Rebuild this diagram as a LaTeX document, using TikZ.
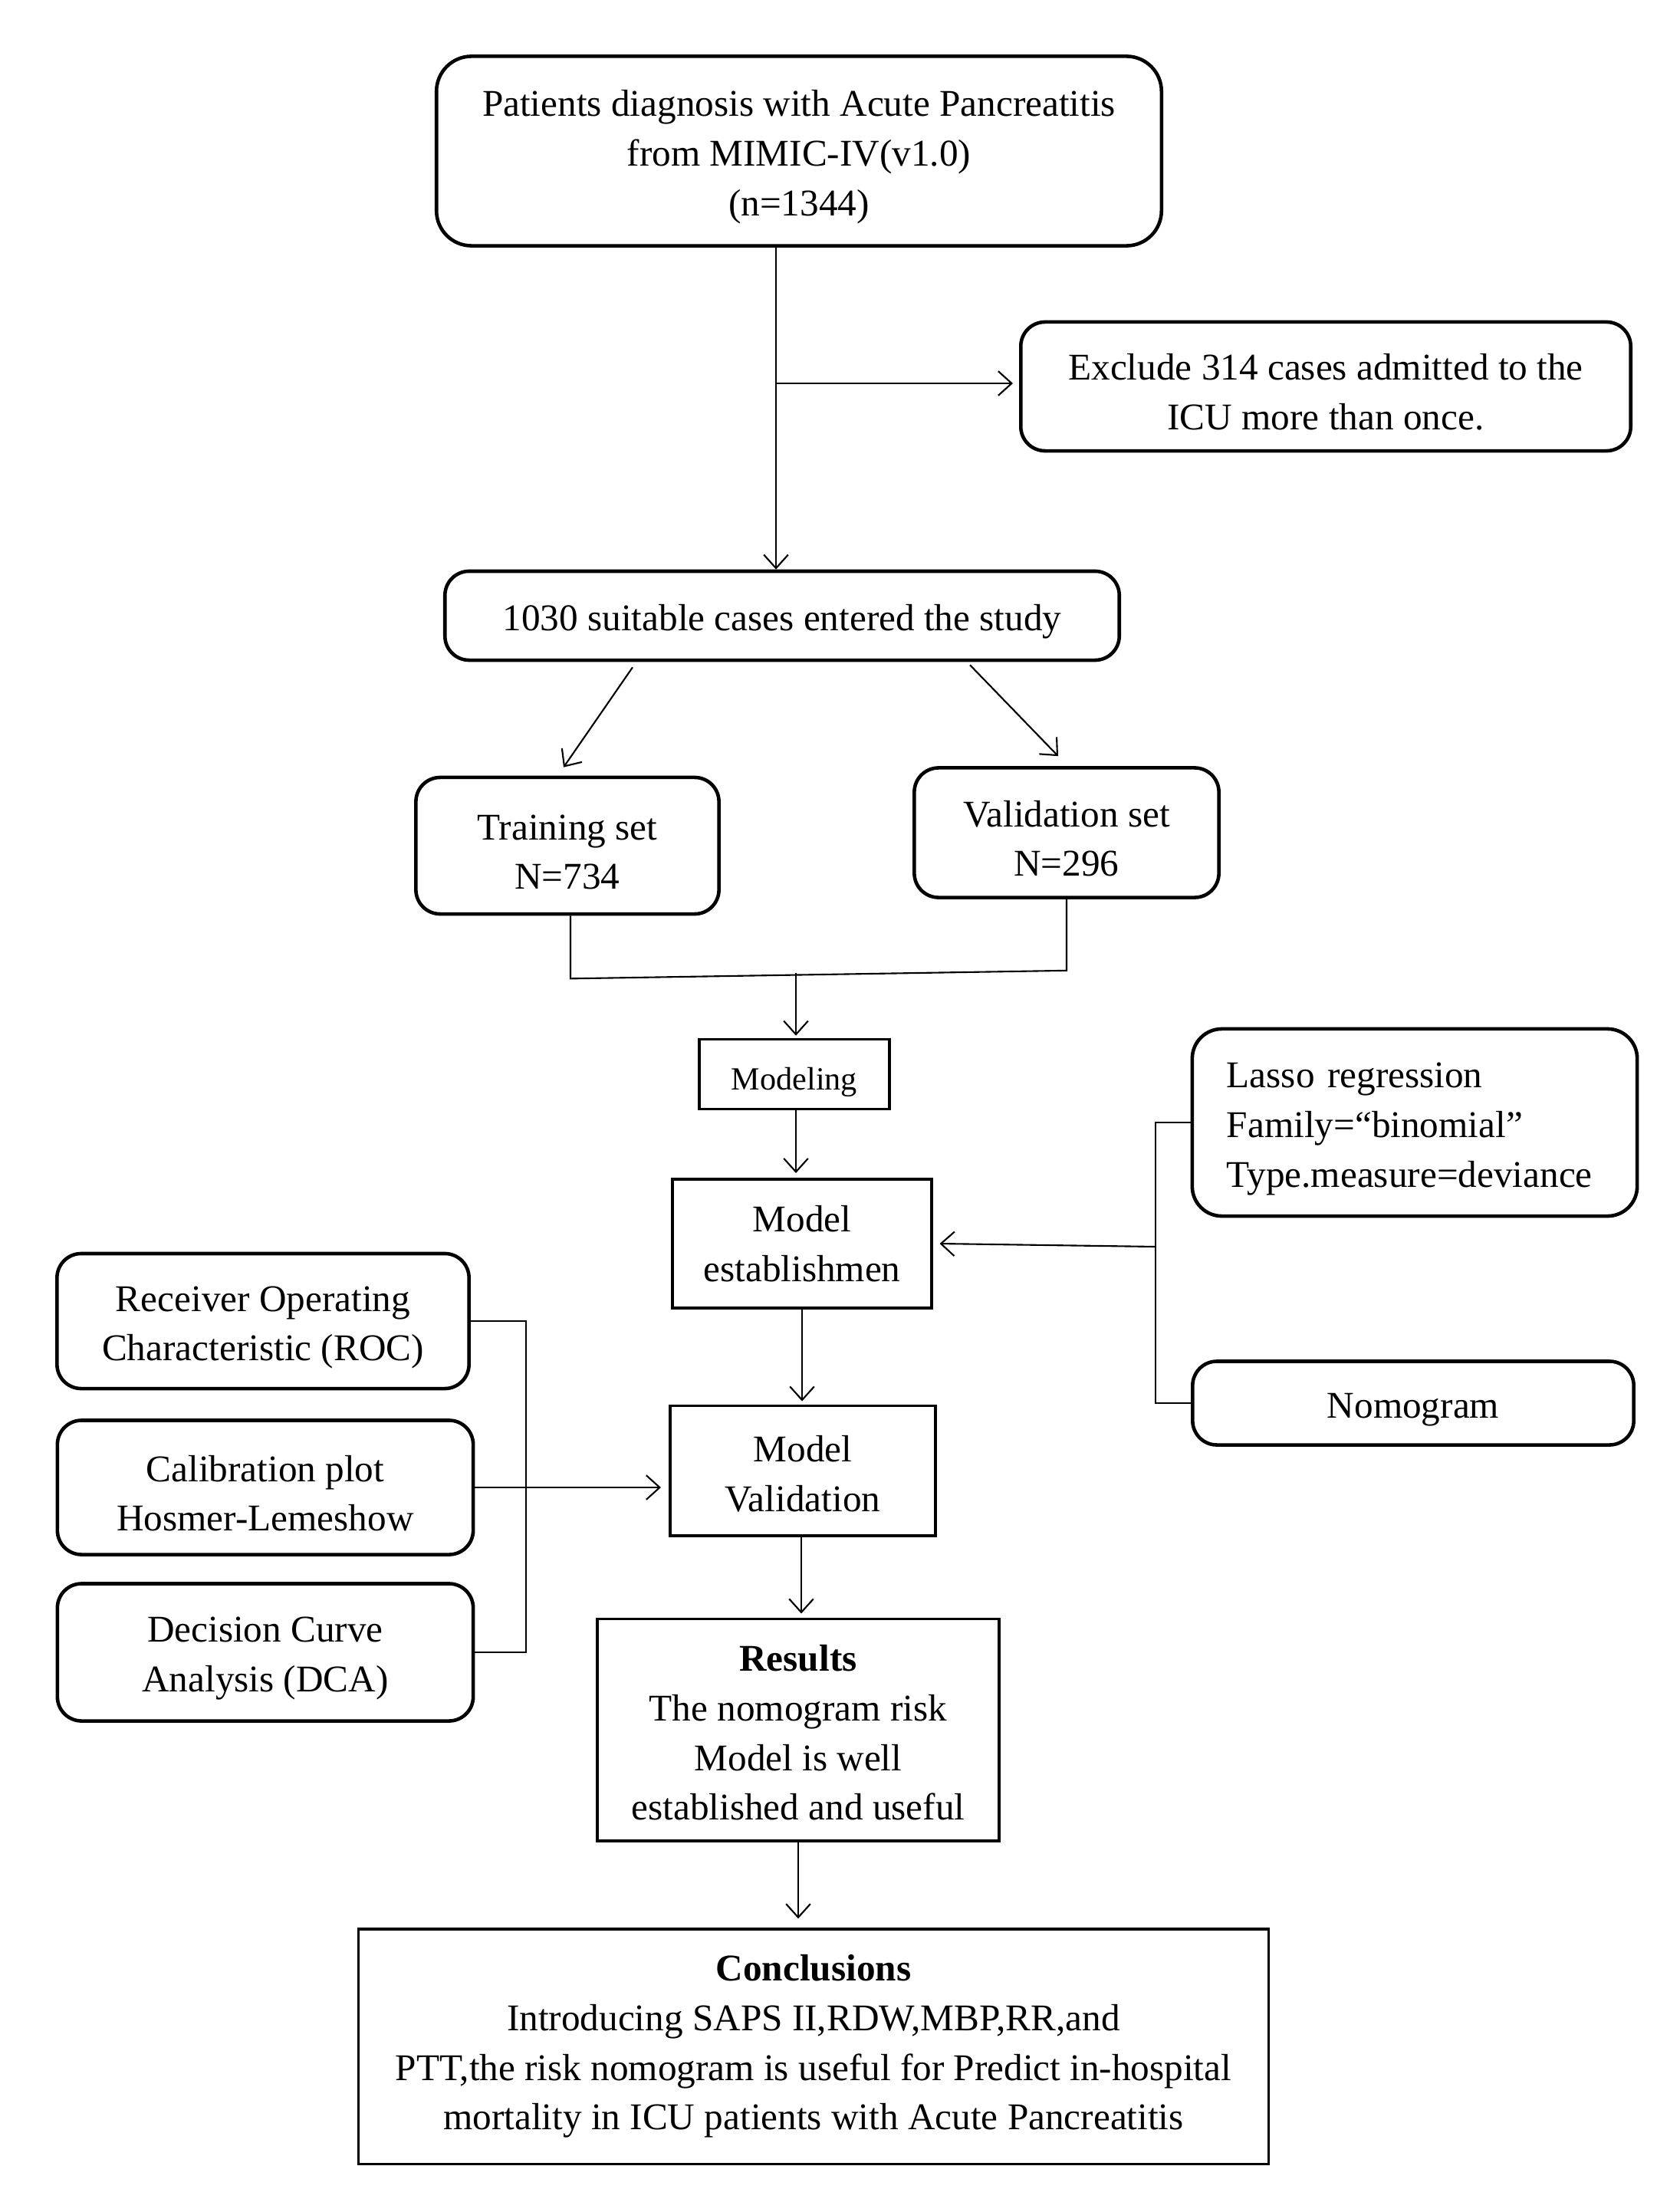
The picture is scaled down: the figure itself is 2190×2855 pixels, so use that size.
\documentclass[tikz,border=0pt]{standalone}
\usepackage{fontspec}
\setmainfont{Liberation Serif}
\usepackage{tikz}
\usetikzlibrary{arrows.meta, positioning, calc}

\newcommand{\topstrut}{\rule{0pt}{14pt}}
\newcommand{\lowstrut}{\rule{0pt}{12pt}}

\begin{document}
\begin{tikzpicture}[
  x=0.01cm, y=-0.01cm,
  rbox/.style={draw, rounded corners=9pt, line width=1.3pt, align=center, inner sep=0pt, font=\fontsize{14}{18.4}\selectfont,
    execute at begin node=\topstrut},
  sbox/.style={draw, line width=1.1pt, align=center, inner sep=0pt, font=\fontsize{14}{18.4}\selectfont},
  arr/.style={-{Straight Barb[length=5pt,width=9pt]}, line width=0.6pt},
  link/.style={line width=0.6pt}
]
  \useasboundingbox (0,0) rectangle (2190,2855);

  \node[rbox, rounded corners=13pt, minimum width=9.45cm, minimum height=2.47cm] (top) at (1042,197) {
    \topstrut Patients diagnosis with Acute Pancreatitis\\
    from MIMIC-IV(v1.0)\\
    (n=1344)
  };
  \node[rbox, minimum width=7.95cm, minimum height=1.68cm] (excl) at (1729,504) {
    \topstrut Exclude 314 cases admitted to the\\
    ICU more than once.
  };
  \node[rbox, minimum width=8.79cm, minimum height=1.16cm] (study) at (1020,803) {1030 suitable cases entered the study};
  \node[rbox, minimum width=3.95cm, minimum height=1.78cm] (train) at (740,1103) {\topstrut Training set\\ N=734};
  \node[rbox, minimum width=3.97cm, minimum height=1.69cm] (valid) at (1391,1086) {\topstrut Validation set\\ N=296};
  \node[sbox, line width=1pt, minimum width=2.48cm, minimum height=0.91cm, font=\fontsize{12}{15}\selectfont] (model) at (1036,1401) {\topstrut Modeling};
  \node[sbox, minimum width=3.37cm, minimum height=1.68cm] (estab) at (1046,1622) {Model\\ establishmen};
  \node[rbox, rounded corners=11pt, align=left, text width=4.9cm, inner xsep=0.45cm, minimum height=2.44cm] (lasso) at (1845,1464) {
    Lasso regression\\
    Family=“binomial”\\
    Type.measure=deviance
  };
  \node[rbox, minimum width=5.75cm, minimum height=1.09cm] (nomo) at (1843,1830) {Nomogram};
  \node[sbox, minimum width=3.46cm, minimum height=1.69cm] (mval) at (1047,1918) {\lowstrut Model\\ Validation};
  \node[rbox, minimum width=5.37cm, minimum height=1.76cm] (roc) at (343,1723) {\topstrut Receiver Operating\\ Characteristic (ROC)};
  \node[rbox, minimum width=5.42cm, minimum height=1.75cm] (calib) at (346,1940) {\topstrut Calibration plot\\ Hosmer-Lemeshow};
  \node[rbox, minimum width=5.42cm, minimum height=1.79cm] (dca) at (346,2155) {\topstrut Decision Curve\\ Analysis (DCA)};
  \node[sbox, minimum width=5.24cm, minimum height=2.89cm] (res) at (1041,2256) {
    \lowstrut\textbf{Results}\\
    The nomogram risk\\
    Model is well\\
    established and useful
  };
  \node[sbox, line width=0.9pt, minimum width=11.87cm, minimum height=3.06cm] (concl) at (1061,2669) {
    \textbf{Conclusions}\\
    Introducing SAPS II,RDW,MBP,RR,and\\
    PTT,the risk nomogram is useful for Predict in-hospital\\
    mortality in ICU patients with Acute Pancreatitis
  };

  \coordinate (c1) at (1012,500);
  \draw[link] (c1 |- top.south) -- (c1);
  \draw[arr] (c1) -- (c1 |- study.north);
  \draw[arr] (c1) -- ($(excl.west)+(-8,-4)$);

  \draw[arr] ($(study.south)+(-195,7)$) -- ($(train.north)+(-5,-11)$);
  \draw[arr] ($(study.south)+(245,4)$) -- ($(valid.north)+(-11,-13)$);

  \coordinate (j) at (1038,1269);
  \draw[link] ($(train.south)+(4,0)$) -- ++(0,82) -- ($(valid.south)+(0,93)$) -- (valid.south);
  \draw[arr] (j) -- ($(j |- model.north)+(0,-3)$);
  \draw[arr] ($(model.south)+(2,0)$) -- ($(model.south |- estab.north)+(2,-6)$);

  \coordinate (rb) at (1507,1626);
  \draw[link] (lasso.west) -| (rb) |- (nomo.west);
  \draw[arr] (rb) -- ($(estab.east)+(9,0)$);

  \draw[arr] (estab.south) -- ($(estab.south |- mval.north)+(0,-4)$);

  \coordinate (lb) at (686,1940);
  \draw[link] (roc.east) -| (lb) |- (dca.east);
  \draw[arr] (calib.east) -- ($(calib.east -| mval.west)+(-10,0)$);

  \draw[arr] ($(mval.south)+(-2,0)$) -- ($(mval.south |- res.north)+(-2,-5)$);
  \draw[arr] (res.south) -- ($(res.south |- concl.north)+(0,-12)$);
\end{tikzpicture}
\end{document}
